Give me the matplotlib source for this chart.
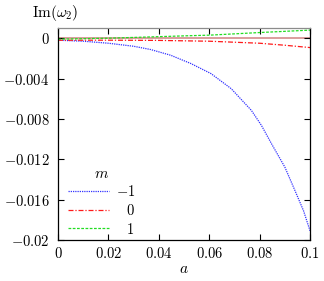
import matplotlib
matplotlib.use("Agg")
import matplotlib.pyplot as plt

plt.rcParams["font.family"] = "serif"
plt.rcParams["font.serif"] = ["cmr10", "DejaVu Serif"]
plt.rcParams["mathtext.fontset"] = "cm"
plt.rcParams["axes.unicode_minus"] = False

# m = -1
a_m1 = [0.0, 0.01, 0.02, 0.03, 0.0367, 0.0447, 0.0527, 0.0607, 0.0687, 0.0767,
        0.0807, 0.0847, 0.09, 0.094, 0.0974, 0.1]
im_m1 = [-0.0002, -0.0003, -0.0005, -0.0008, -0.00112, -0.00169, -0.00251, -0.00351,
         -0.0050, -0.00715, -0.00864, -0.01046, -0.01278, -0.0151, -0.0171, -0.0191]
# m = 0
a_0 = [0.0, 0.02, 0.04, 0.06, 0.07, 0.08, 0.09, 0.1]
im_0 = [-0.0002, -0.0002, -0.00022, -0.0003, -0.0004, -0.0005, -0.0007, -0.00093]
# m = 1
a_p1 = [0.0, 0.02, 0.04, 0.05, 0.06, 0.08, 0.1]
im_p1 = [-0.0001, 0.0, 0.00015, 0.00023, 0.0003, 0.00056, 0.0008]

xticks = [0, 0.02, 0.04, 0.06, 0.08, 0.1]
xlabels = ["$0$", "$0.02$", "$0.04$", "$0.06$", "$0.08$", "$0.1$"]
yticks = [0, -0.004, -0.008, -0.012, -0.016, -0.02]
ylabels = ["$0$", "$-0.004$", "$-0.008$", "$-0.012$", "$-0.016$", "$-0.02$"]

fig = plt.figure(figsize=(3.24, 2.81), dpi=100)
ax = fig.add_axes([0.179, 0.146, 0.778, 0.754])

ax.axhline(0, color="#d89595", lw=1.3, zorder=1)
ax.plot(a_m1, im_m1, color="#3333ff", lw=0.9, ls=(0, (1, 0.8)), label="$-1$")
ax.plot(a_0, im_0, color="#ff1a1a", lw=0.9, ls=(0, (4, 1.5, 1, 1.5)), label=r"$\ \ \,0$")
ax.plot(a_p1, im_p1, color="#22dd22", lw=0.9, ls=(0, (2.2, 1.2)), label=r"$\ \ \,1$")

ax.set_xlim(0, 0.1)
ax.set_ylim(-0.02, 0.001)
ax.set_xticks(xticks)
ax.set_xticklabels(xlabels, fontsize=10.5)
ax.set_yticks(yticks)
ax.set_yticklabels(ylabels, fontsize=10.5)
ax.tick_params(direction="in", top=True, right=True, length=4, width=0.8)
ax.tick_params(axis="y", pad=6)
ax.tick_params(axis="x", pad=4)
for s in ax.spines.values():
    s.set_linewidth(0.9)
ax.spines["top"].set_color("0.55")

ax.set_xlabel("$a$", fontsize=11, labelpad=1)
fig.text(0.17, 0.955, r"$\mathrm{Im}(\omega_2)$", fontsize=11, ha="center", va="center")

leg = ax.legend(loc="lower left", bbox_to_anchor=(0.0, -0.032), frameon=False,
                title="$m$", fontsize=10.5, title_fontsize=11,
                handlelength=2.8, handletextpad=0.5, labelspacing=0.25,
                borderaxespad=0.3)

fig.savefig("out.png", dpi=100)
